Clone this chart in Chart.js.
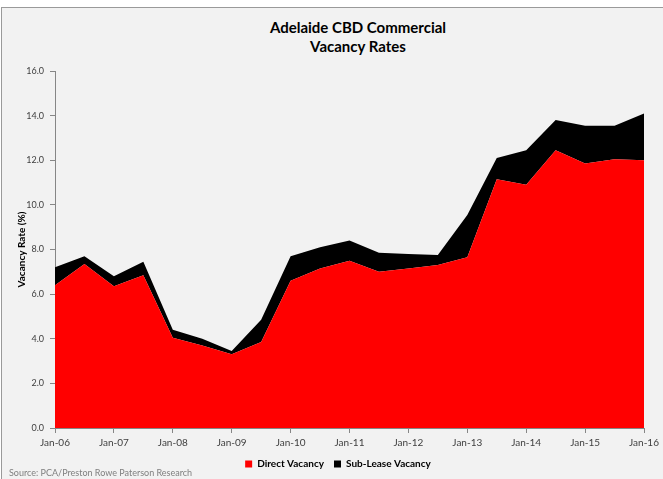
<!DOCTYPE html>
<html>
<head>
<meta charset="utf-8">
<script src="https://cdn.jsdelivr.net/npm/chart.js@4.4.1/dist/chart.umd.min.js"></script>
<style>
    html, body { margin: 0; padding: 0; background: #ffffff; }
    body { width: 663px; height: 479px; position: relative; overflow: hidden; }
    .frame {
        position: absolute; left: 1px; top: 7px; width: 700px; height: 520px;
        background: #f2f2f2; border: 1px solid #9a9a9a;
    }
    .chart-box { position: absolute; left: 0; top: 0; width: 663px; height: 479px; }
    .chart-title {
        position: absolute; left: 208px; top: 18px; width: 300px;
        text-align: center; font-family: 'Lato', sans-serif; font-weight: bold;
        font-size: 15px; line-height: 19px; color: #000000;
    }
    .source {
        position: absolute; left: 9px; top: 467px;
        font-family: 'Lato', sans-serif;
        font-size: 9px; color: #7f7f7f;
    }
</style>
</head>
<body>
<div class="frame"></div>
<div class="chart-title">Adelaide CBD Commercial<br>Vacancy Rates</div>
<div class="chart-box"><canvas id="vacancyChart"></canvas></div>
<div class="source">Source: PCA/Preston Rowe Paterson Research</div>
<script>
    // Semi-annual periods, Jan-06 .. Jan-16
    const periods = ['Jan-06', 'Jul-06', 'Jan-07', 'Jul-07', 'Jan-08', 'Jul-08', 'Jan-09', 'Jul-09',
        'Jan-10', 'Jul-10', 'Jan-11', 'Jul-11', 'Jan-12', 'Jul-12', 'Jan-13', 'Jul-13',
        'Jan-14', 'Jul-14', 'Jan-15', 'Jul-15', 'Jan-16'];

    // Vacancy rates (%)
    const directVacancy = [6.4, 7.35, 6.35, 6.85, 4.05, 3.7, 3.3, 3.85, 6.6, 7.15, 7.5, 7.0,
        7.15, 7.3, 7.65, 11.15, 10.9, 12.45, 11.85, 12.05, 12.0];
    const subLeaseVacancy = [0.8, 0.35, 0.45, 0.6, 0.35, 0.3, 0.15, 1.0, 1.1, 0.95, 0.9, 0.85,
        0.65, 0.45, 1.9, 0.95, 1.55, 1.35, 1.7, 1.5, 2.1];

    const yTicks = [0, 2, 4, 6, 8, 10, 12, 14, 16];

    const fontFamily = "'Lato', sans-serif";
    const axisColor = '#868686';
    const textColor = '#404040';

    // shift the legend a bit right so it sits under the plot like the original
    const legendShift = {
        id: 'legendShift',
        beforeDraw(chart) {
            if (chart.legend) {
                chart.legend.left = 32;
            }
        }
    };

    const ctx = document.getElementById('vacancyChart').getContext('2d');

    new Chart(ctx, {
        type: 'line',
        data: {
            labels: periods,
            datasets: [
                {
                    label: 'Direct Vacancy',
                    data: directVacancy,
                    backgroundColor: '#ff0000',
                    borderColor: '#ff0000',
                    borderWidth: 0,
                    pointRadius: 0,
                    fill: 'origin',
                    tension: 0
                },
                {
                    label: 'Sub-Lease Vacancy',
                    data: subLeaseVacancy,
                    backgroundColor: '#000000',
                    borderColor: '#000000',
                    borderWidth: 0,
                    pointRadius: 0,
                    fill: '-1',
                    tension: 0
                }
            ]
        },
        plugins: [legendShift],
        options: {
            responsive: true,
            maintainAspectRatio: false,
            animation: false,
            layout: { padding: { left: 0, right: 19, top: 71, bottom: 0 } },
            plugins: {
                title: { display: false },
                legend: {
                    position: 'bottom',
                    labels: {
                        color: '#000000',
                        font: { family: fontFamily, size: 10, weight: 'bold' },
                        boxWidth: 7,
                        boxHeight: 7,
                        padding: 10
                    }
                },
                tooltip: { enabled: false }
            },
            scales: {
                x: {
                    offset: false,
                    afterFit: (scale) => { scale.height = 21; },
                    grid: {
                        drawOnChartArea: false,
                        tickLength: 5,
                        tickColor: (c) => (c.index % 2 === 0 ? axisColor : 'rgba(0,0,0,0)')
                    },
                    border: { color: axisColor, width: 1 },
                    ticks: {
                        autoSkip: false,
                        maxRotation: 0,
                        padding: 4,
                        color: textColor,
                        font: { family: fontFamily, size: 10 },
                        callback: function (value, index) {
                            return index % 2 === 0 ? periods[index] : '';
                        }
                    }
                },
                y: {
                    stacked: true,
                    min: 0,
                    max: 16,
                    afterBuildTicks: (scale) => { scale.ticks = yTicks.map(v => ({ value: v })); },
                    afterFit: (scale) => { scale.width = 55; },
                    grid: { drawOnChartArea: false, tickLength: 5, color: axisColor },
                    border: { color: axisColor, width: 1 },
                    ticks: {
                        padding: 6,
                        color: textColor,
                        font: { family: fontFamily, size: 9 },
                        callback: (value) => Number(value).toFixed(1)
                    },
                    title: {
                        display: true,
                        text: 'Vacancy Rate (%)',
                        color: '#000000',
                        font: { family: fontFamily, size: 10, weight: 'bold' },
                        padding: { top: 16, bottom: 0 }
                    }
                }
            }
        }
    });
</script>
</body>
</html>
